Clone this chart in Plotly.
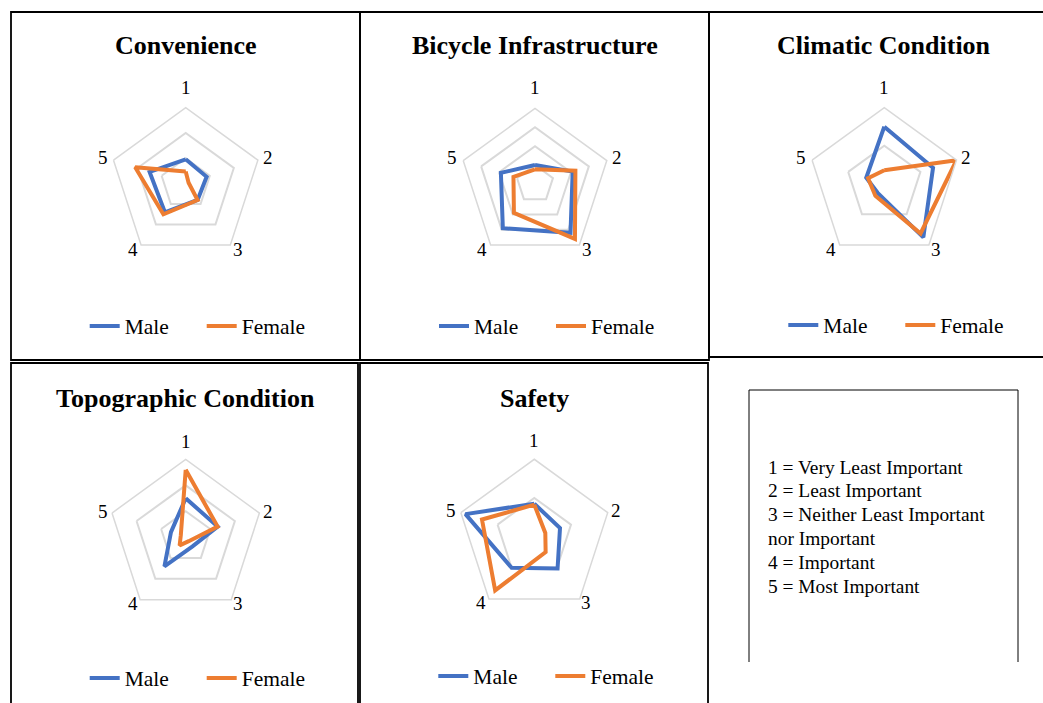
import plotly.graph_objects as go

W, H = 1043, 703

# ---------------- data ----------------
categories = ["1", "2", "3", "4", "5"]
series_names = ["Male", "Female"]
chart_titles = ["Convenience", "Bicycle Infrastructure", "Climatic Condition",
                "Topographic Condition", "Safety"]

convenience_male = [0.96, 0.87, 0.80, 1.40, 1.50]
convenience_female = [0.48, 0.12, 0.80, 1.50, 2.10]

bicycle_male = [1.00, 2.10, 3.20, 2.90, 1.90]
bicycle_female = [0.77, 2.25, 3.60, 1.90, 1.20]

climatic_male = [3.00, 2.70, 3.50, 0.60, 1.00]
climatic_female = [0.70, 4.00, 3.25, 0.80, 0.90]

topographic_male = [1.50, 1.30, 0.45, 1.40, 0.60]
topographic_female = [2.60, 1.30, 0.20, 0.40, 0.20]

safety_male = [1.70, 1.40, 2.05, 2.00, 3.75]
safety_female = [1.65, 0.60, 1.00, 3.45, 2.85]

# radial scale (max, major unit) for each chart
radial_max = [3, 4, 4, 3, 4]
radial_unit = [1, 1, 2, 1, 2]

key_lines = ["1 = Very Least Important", "2 = Least Important",
             "3 = Neither Least Important", "nor Important",
             "4 = Important", "5 = Most Important"]

# ---------------- layout geometry (pixels) ----------------
centers = [(185.7, 183.6), (535.0, 183.9), (884.3, 183.6),
           (185.7, 537.0), (534.3, 536.5)]
radii = [75.9, 75.5, 75.9, 77.5, 77.2]
title_y = [46, 46, 46, 398, 398]
legend_y = [326, 326, 325, 678, 676]
# category label offsets from the chart centre (pixels)
label_offsets = [(0, -96), (82, -26), (52, 66), (-53, 66), (-83, -26)]

colors = {"Male": "#4472C4", "Female": "#ED7D31"}
SERIF = "Liberation Serif, Times New Roman, serif"
GRID = "#d9d9d9"

data_sets = [
    (convenience_male, convenience_female),
    (bicycle_male, bicycle_female),
    (climatic_male, climatic_female),
    (topographic_male, topographic_female),
    (safety_male, safety_female),
]

fig = go.Figure()
layout = dict(
    width=W, height=H, margin=dict(l=0, r=0, t=0, b=0),
    paper_bgcolor="white", plot_bgcolor="white",
    font=dict(family=SERIF, color="black"),
    shapes=[], annotations=[],
)


def px(x, y):
    return x / W, 1 - y / H


for i, (male, female) in enumerate(data_sets):
    pid = "polar" if i == 0 else f"polar{i+1}"
    lid = "legend" if i == 0 else f"legend{i+1}"
    for name, vals in zip(series_names, (male, female)):
        fig.add_trace(go.Scatterpolar(
            r=list(vals) + [vals[0]],
            theta=categories + [categories[0]],
            mode="lines", name=name,
            line=dict(color=colors[name], width=4),
            subplot=pid, legend=lid, showlegend=True,
        ))
    cx, cy = centers[i]
    R = radii[i]
    layout[pid] = dict(
        domain=dict(x=[(cx - R) / W, (cx + R) / W],
                    y=[1 - (cy + R) / H, 1 - (cy - R) / H]),
        bgcolor="white",
        gridshape="linear",
        angularaxis=dict(type="category", categoryorder="array",
                         categoryarray=categories, rotation=90,
                         direction="clockwise", showgrid=False,
                         showline=True, linecolor=GRID, linewidth=1.5,
                         ticks="", showticklabels=False),
        radialaxis=dict(range=[0, radial_max[i]], dtick=radial_unit[i], tick0=0,
                        showticklabels=False, ticks="", showline=False,
                        gridcolor=GRID, gridwidth=1.5),
    )
    lx, ly = px(cx + 16, legend_y[i])
    layout[lid] = dict(
        x=lx, y=ly, xanchor="center", yanchor="middle",
        orientation="h", bgcolor="rgba(0,0,0,0)",
        font=dict(family=SERIF, size=21.5, color="black"),
        entrywidth=72, entrywidthmode="pixels",
    )
    tx, ty = px(cx, title_y[i])
    layout["annotations"].append(dict(
        text=f"<b>{chart_titles[i]}</b>", x=tx, y=ty,
        xref="paper", yref="paper", showarrow=False,
        xanchor="center", yanchor="middle",
        font=dict(family=SERIF, size=26, color="black"),
    ))
    for cat, (dx, dy) in zip(categories, label_offsets):
        ax, ay = px(cx + dx, cy + dy)
        layout["annotations"].append(dict(
            text=cat, x=ax, y=ay, xref="paper", yref="paper",
            showarrow=False, xanchor="center", yanchor="middle",
            font=dict(family=SERIF, size=19, color="black"),
        ))

# cell borders (pixels)
cells = [(11, 12, 360, 360), (360, 12, 709, 360), (709, 12, 1050, 357),
         (11, 363, 358, 712), (360, 363, 708, 712)]
for x0, y0, x1, y1 in cells:
    X0, Y0 = px(x0, y0)
    X1, Y1 = px(x1, y1)
    layout["shapes"].append(dict(
        type="rect", xref="paper", yref="paper",
        x0=X0, x1=X1, y0=Y0, y1=Y1,
        line=dict(color="black", width=1.8), fillcolor="rgba(0,0,0,0)",
    ))

# key box (left, top, right sides)
bx0, by0, bx1, by1 = 749, 390, 1018, 662
layout["shapes"].append(dict(
    type="path", xref="paper", yref="paper",
    path=f"M {bx0/W},{1-by1/H} L {bx0/W},{1-by0/H} L {bx1/W},{1-by0/H} L {bx1/W},{1-by1/H}",
    line=dict(color="black", width=1), fillcolor="rgba(0,0,0,0)",
))
for k, line in enumerate(key_lines):
    kx, ky = px(766, 467 + 23.8 * k)
    layout["annotations"].append(dict(
        text=line, x=kx, y=ky, xref="paper", yref="paper", showarrow=False,
        xanchor="left", yanchor="middle", align="left",
        font=dict(family=SERIF, size=19.4, color="black"),
    ))

fig.update_layout(**layout)
fig.write_html("out.html", config={"displayModeBar": False},
               post_script="document.body.style.margin='0';document.body.style.overflow='hidden';")
